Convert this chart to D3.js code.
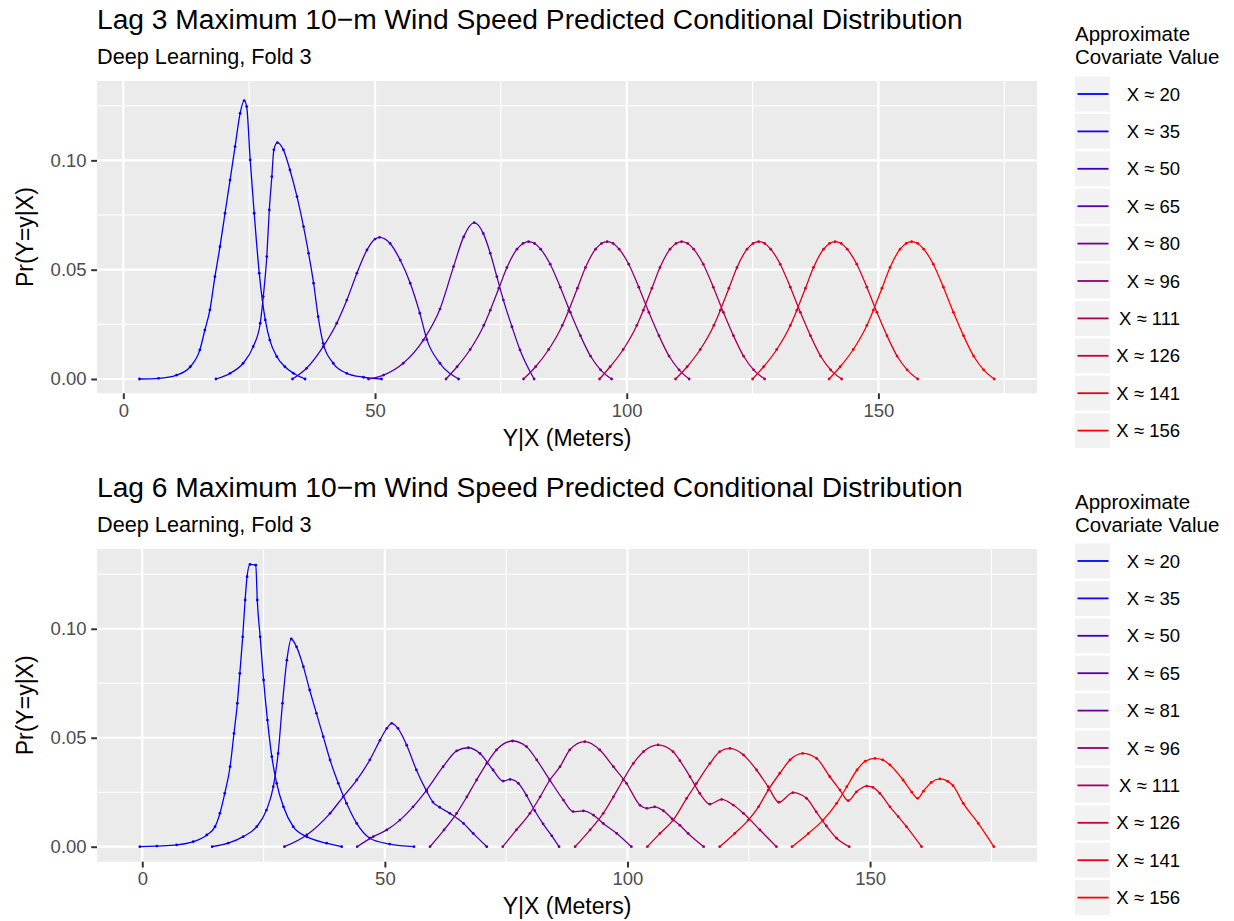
<!DOCTYPE html>
<html>
<head>
<meta charset="utf-8">
<script src="https://cdn.jsdelivr.net/npm/d3@7"></script>
<style>
  body { margin: 0; background: #fff; }
  text { font-family: "Liberation Sans", Arial, Helvetica, sans-serif; }
</style>
</head>
<body>
<svg id="chart" width="1234" height="921"></svg>
<script>
// legend labels for each panel
const lag3Labels = ['X \u2248 20', 'X \u2248 35', 'X \u2248 50', 'X \u2248 65', 'X \u2248 80',
    'X \u2248 96', 'X \u2248 111', 'X \u2248 126', 'X \u2248 141', 'X \u2248 156'];
const lag6Labels = ['X \u2248 20', 'X \u2248 35', 'X \u2248 50', 'X \u2248 65', 'X \u2248 81',
    'X \u2248 96', 'X \u2248 111', 'X \u2248 126', 'X \u2248 141', 'X \u2248 156'];

// axis ticks
const xTicks = [0, 50, 100, 150];
const xMinor = [25, 75, 125, 175];
const yTicks = [0, 0.05, 0.10];
const yMinor = [0.025, 0.075, 0.125];

// lag 3 curves, [y|x, Pr]
const lag3Curves = [
    [[3.2,0],[7.0,.0003],[10.6,.0018],[13.3,.0056],[15.2,.0133],[16.2,.0224],[17.2,.0316],[18.2,.0468],
     [19.2,.0605],[20.2,.0758],[21.2,.0910],[22.2,.1063],[23.2,.1215],[24.0,.1273],[24.5,.1246],[25.2,.1002],
     [26.0,.0758],[27.0,.0484],[28.2,.0270],[29.1,.0178],[30.5,.0102],[32.1,.0056],[33.8,.0026],[36.1,0]],
    [[18.4,0],[21.2,.0026],[23.8,.0072],[25.8,.0148],[27.2,.0255],[27.8,.0377],[28.5,.0560],[29.0,.0773],
     [29.5,.0925],[29.9,.1048],[30.6,.1081],[31.8,.1048],[33.1,.0956],[34.5,.0834],[35.8,.0697],[36.8,.0575],
     [37.8,.0438],[38.7,.0285],[39.7,.0163],[41.7,.0072],[44.4,.0026],[47.7,.0008],[51.3,0]],
    [[33.6,0],[36.4,.0049],[39.7,.0148],[42.4,.0255],[44.4,.0361],[46.4,.0484],[48.4,.0590],[50.0,.0640],
     [50.9,.0648],[53.0,.0620],[55.0,.0544],[57.0,.0438],[58.9,.0301],[60.3,.0180],[62.9,.0072],[66.6,0]],
    [[48.7,0],[51.7,.0018],[55.6,.0072],[59.6,.0178],[62.9,.0320],[65.6,.0514],[67.6,.0650],[69.7,.0715],
     [71.5,.0666],[72.9,.0575],[74.2,.0468],[75.5,.0361],[77.2,.0239],[78.8,.0133],[81.6,0]],
    [[64.1,0],[66.3,.0056],[68.9,.0135],[71.6,.0245],[72.9,.0315],[74.6,.0415],[76.2,.0510],[78.2,.0594],
     [79.4,.0620],[80.5,.0628],[81.7,.0620],[82.9,.0594],[84.8,.0525],[86.8,.0420],[88.8,.0305],[90.8,.0198],
     [92.8,.0105],[94.8,.0042],[97.0,0]],
    [[79.5,0],[81.9,.0056],[84.5,.0135],[87.2,.0245],[88.5,.0315],[90.2,.0415],[91.8,.0510],[93.8,.0594],
     [95.0,.0620],[96.1,.0628],[97.3,.0620],[98.5,.0594],[100.4,.0525],[102.4,.0420],[104.4,.0305],[106.4,.0198],
     [108.4,.0105],[110.4,.0042],[112.4,0]],
    [[94.6,0],[96.7,.0056],[99.3,.0135],[102.0,.0245],[103.3,.0315],[105.0,.0415],[106.6,.0510],[108.6,.0594],
     [109.8,.0620],[110.9,.0628],[112.1,.0620],[113.3,.0594],[115.2,.0525],[117.2,.0420],[119.2,.0305],[121.2,.0198],
     [123.2,.0105],[125.2,.0042],[127.4,0]],
    [[109.7,0],[112.0,.0056],[114.6,.0135],[117.3,.0245],[118.6,.0315],[120.3,.0415],[121.9,.0510],[123.9,.0594],
     [125.1,.0620],[126.2,.0628],[127.4,.0620],[128.6,.0594],[130.5,.0525],[132.5,.0420],[134.5,.0305],[136.5,.0198],
     [138.5,.0105],[140.5,.0042],[142.7,0]],
    [[125.0,0],[127.2,.0056],[129.8,.0135],[132.5,.0245],[133.8,.0315],[135.5,.0415],[137.1,.0510],[139.1,.0594],
     [140.3,.0620],[141.4,.0628],[142.6,.0620],[143.8,.0594],[145.7,.0525],[147.7,.0420],[149.7,.0305],[151.7,.0198],
     [153.7,.0105],[155.7,.0042],[157.8,0]],
    [[140.2,0],[142.4,.0056],[145.0,.0135],[147.7,.0245],[149.0,.0315],[150.7,.0415],[152.3,.0510],[154.3,.0594],
     [155.5,.0620],[156.6,.0628],[157.8,.0620],[159.0,.0594],[160.9,.0525],[162.9,.0420],[164.9,.0305],[166.9,.0198],
     [168.9,.0105],[170.9,.0042],[173.0,0]]
];

// lag 6 curves
const lag6Curves = [
    [[-0.5,0],[3.0,.0003],[7.1,.0008],[10.5,.0023],[13.3,.0054],[15.0,.0092],[16.0,.0153],[17.0,.0245],
     [18.1,.0367],[18.9,.0520],[19.6,.0658],[20.1,.0795],[20.7,.0963],[21.2,.1132],[21.6,.1239],[22.2,.1295],
     [23.4,.1292],[23.7,.1132],[24.3,.0963],[25.0,.0765],[25.8,.0581],[26.7,.0413],[27.7,.0291],[29.1,.0183],
     [31.1,.0092],[33.9,.0046],[38.0,.0016],[41.1,0]],
    [[14.4,0],[17.7,.0016],[20.8,.0046],[23.6,.0092],[25.6,.0168],[27.0,.0275],[28.0,.0428],[28.9,.0658],
     [29.8,.0856],[30.7,.0953],[31.8,.0917],[33.2,.0826],[34.5,.0719],[35.9,.0612],[37.3,.0505],[38.7,.0398],
     [40.4,.0291],[42.1,.0199],[44.2,.0107],[46.9,.0039],[51.0,.0012],[56.0,0]],
    [[29.3,0],[33.9,.0054],[38.7,.0153],[41.4,.0229],[44.2,.0306],[46.9,.0398],[49.0,.0489],[50.4,.0543],
     [51.4,.0566],[52.7,.0543],[54.5,.0466],[56.5,.0352],[58.6,.0255],[59.9,.0205],[61.3,.0181],[63.4,.0153],
     [66.2,.0107],[68.2,.0061],[71.0,0]],
    [[44.3,0],[47.6,.0046],[50.4,.0077],[53.1,.0122],[55.8,.0183],[58.6,.0260],[62.0,.0367],[64.8,.0440],
     [67.2,.0454],[69.6,.0428],[72.3,.0352],[74.4,.0301],[75.8,.0309],[77.5,.0291],[79.2,.0235],[80.9,.0165],
     [82.6,.0105],[84.4,.0050],[85.9,0]],
    [[59.3,0],[62.2,.0077],[64.8,.0153],[66.9,.0229],[68.9,.0306],[71.0,.0382],[73.0,.0444],[76.3,.0485],
     [79.2,.0459],[81.3,.0398],[84.0,.0306],[86.8,.0214],[88.8,.0161],[90.9,.0164],[93.0,.0145],[95.0,.0107],
     [97.8,.0061],[100.8,0]],
    [[74.3,0],[77.1,.0077],[79.9,.0153],[82.0,.0229],[84.0,.0306],[86.1,.0367],[88.1,.0444],[91.2,.0482],
     [94.3,.0444],[97.1,.0367],[99.8,.0291],[102.6,.0190],[104.0,.0176],[105.6,.0183],[107.4,.0165],[109.2,.0128],
     [110.8,.0098],[112.5,.0061],[115.7,0]],
    [[89.2,0],[92.3,.0077],[95.0,.0153],[97.1,.0229],[99.1,.0306],[101.2,.0382],[103.3,.0436],[106.3,.0467],
     [109.4,.0436],[110.8,.0395],[112.9,.0321],[114.9,.0245],[117.0,.0195],[119.4,.0217],[121.8,.0191],[123.9,.0153],
     [127.3,.0077],[130.7,0]],
    [[104.1,0],[106.7,.0061],[109.4,.0122],[112.2,.0222],[114.2,.0290],[117.0,.0382],[119.0,.0436],[121.1,.0451],
     [123.9,.0421],[126.6,.0352],[129.0,.0275],[131.2,.0204],[134.1,.0248],[136.9,.0222],[138.9,.0160],[141.0,.0095],
     [143.1,.0039],[145.7,0]],
    [[119.0,0],[122.1,.0061],[124.9,.0122],[127.0,.0183],[129.0,.0260],[131.4,.0337],[133.5,.0398],[136.1,.0428],
     [139.0,.0405],[141.7,.0321],[143.8,.0260],[145.5,.0211],[147.2,.0252],[149.3,.0278],[150.6,.0272],[152.0,.0245],
     [154.1,.0183],[155.8,.0138],[157.5,.0092],[160.6,0]],
    [[133.9,0],[137.3,.0061],[140.3,.0122],[143.1,.0199],[145.2,.0275],[147.3,.0352],[149.0,.0392],[151.0,.0405],
     [152.6,.0398],[154.1,.0375],[156.8,.0306],[158.6,.0250],[159.8,.0222],[161.0,.0255],[162.6,.0295],[164.4,.0311],
     [166.0,.0300],[167.1,.0280],[169.2,.0199],[172.3,.0107],[175.5,0]]
];

const svg = d3.select('#chart');
svg.append('rect').attr('width', 1234).attr('height', 921).attr('fill', '#fff');

// blue to red, one step per covariate value
const colour = i => d3.interpolateRgb('#0000FF', '#FF0000')(i / 9);

const panelLeft = 97, panelRight = 1037;

function drawPanel(cfg) {
    let x = d3.scaleLinear().domain(cfg.xDomain).range([panelLeft, panelRight]);
    let y = d3.scaleLinear().domain(cfg.yDomain).range([cfg.bottom, cfg.top]);
    let g = svg.append('g');

    // titles
    g.append('text').attr('x', panelLeft).attr('y', cfg.titleY)
        .attr('font-size', 28.2).attr('fill', '#000').text(cfg.title);
    g.append('text').attr('x', panelLeft).attr('y', cfg.titleY + 35)
        .attr('font-size', 21.7).attr('fill', '#000').text('Deep Learning, Fold 3');

    // panel background
    g.append('rect')
        .attr('x', panelLeft).attr('y', cfg.top)
        .attr('width', panelRight - panelLeft).attr('height', cfg.bottom - cfg.top)
        .attr('fill', '#EBEBEB');

    // grid, minor first
    g.selectAll('line.vmin').data(xMinor).join('line').attr('class', 'vmin')
        .attr('x1', d => x(d)).attr('x2', d => x(d)).attr('y1', cfg.top).attr('y2', cfg.bottom)
        .attr('stroke', '#fff').attr('stroke-width', 1.1);
    g.selectAll('line.hmin').data(yMinor).join('line').attr('class', 'hmin')
        .attr('y1', d => y(d)).attr('y2', d => y(d)).attr('x1', panelLeft).attr('x2', panelRight)
        .attr('stroke', '#fff').attr('stroke-width', 1.1);
    g.selectAll('line.vmaj').data(xTicks).join('line').attr('class', 'vmaj')
        .attr('x1', d => x(d)).attr('x2', d => x(d)).attr('y1', cfg.top).attr('y2', cfg.bottom)
        .attr('stroke', '#fff').attr('stroke-width', 2.2);
    g.selectAll('line.hmaj').data(yTicks).join('line').attr('class', 'hmaj')
        .attr('y1', d => y(d)).attr('y2', d => y(d)).attr('x1', panelLeft).attr('x2', panelRight)
        .attr('stroke', '#fff').attr('stroke-width', 2.2);

    // axes
    let xAxis = g.append('g').attr('transform', `translate(0,${cfg.bottom})`)
        .call(d3.axisBottom(x).tickValues(xTicks).tickFormat(d3.format('d')).tickSize(5.8).tickPadding(4.8));
    let yAxis = g.append('g').attr('transform', `translate(${panelLeft},0)`)
        .call(d3.axisLeft(y).tickValues(yTicks).tickFormat(d3.format('.2f')).tickSize(5.8).tickPadding(4.6));
    [xAxis, yAxis].forEach(a => {
        a.select('.domain').remove();
        a.selectAll('line').attr('stroke', '#333').attr('stroke-width', 2);
        a.selectAll('text').attr('fill', '#4D4D4D').attr('font-size', 18.5)
            .style('font-family', '"Liberation Sans", Arial, sans-serif');
    });

    // axis titles
    g.append('text').attr('x', (panelLeft + panelRight) / 2).attr('y', cfg.bottom + 52.5)
        .attr('text-anchor', 'middle').attr('font-size', 23).text('Y|X (Meters)');
    g.append('text')
        .attr('transform', `translate(33,${(cfg.top + cfg.bottom) / 2}) rotate(-90)`)
        .attr('text-anchor', 'middle').attr('font-size', 23).text('Pr(Y=y|X)');

    // curves: line plus a point at every value
    let line = d3.line().x(d => x(d[0])).y(d => y(d[1])).curve(d3.curveMonotoneX);
    let clip = 'clip' + cfg.id;
    g.append('clipPath').attr('id', clip).append('rect')
        .attr('x', panelLeft).attr('y', cfg.top)
        .attr('width', panelRight - panelLeft).attr('height', cfg.bottom - cfg.top);
    let curves = g.append('g').attr('clip-path', `url(#${clip})`);
    cfg.curves.forEach((c, i) => {
        curves.append('path').datum(c).attr('d', line)
            .attr('fill', 'none').attr('stroke', colour(i)).attr('stroke-width', 1.3);
        curves.selectAll(`circle.c${i}`).data(c).join('circle').attr('class', `c${i}`)
            .attr('cx', d => x(d[0])).attr('cy', d => y(d[1])).attr('r', 1.4)
            .attr('fill', colour(i));
    });

    // legend
    let lg = g.append('g');
    lg.append('text').attr('x', 1075).attr('y', cfg.legendY)
        .attr('font-size', 20.5).text('Approximate');
    lg.append('text').attr('x', 1075).attr('y', cfg.legendY + 23)
        .attr('font-size', 20.5).text('Covariate Value');
    cfg.labels.forEach((lab, i) => {
        let cy = cfg.keyY + i * 37.4;
        lg.append('rect').attr('x', 1075).attr('y', cy - 17.5).attr('width', 35).attr('height', 35)
            .attr('fill', '#F2F2F2');
        lg.append('line').attr('x1', 1077.5).attr('x2', 1108.5).attr('y1', cy).attr('y2', cy)
            .attr('stroke', colour(i)).attr('stroke-width', 1.8);
        lg.append('text').attr('x', 1180).attr('y', cy + 6.6).attr('text-anchor', 'end')
            .attr('font-size', 18.5).text(lab);
    });
}

drawPanel({
    id: 3, title: 'Lag 3 Maximum 10\u2212m Wind Speed Predicted Conditional Distribution',
    titleY: 29, top: 81, bottom: 393.3,
    xDomain: [-5.23, 181.5], yDomain: [-0.00654, 0.1363],
    curves: lag3Curves, labels: lag3Labels, legendY: 41, keyY: 94
});
drawPanel({
    id: 6, title: 'Lag 6 Maximum 10\u2212m Wind Speed Predicted Conditional Distribution',
    titleY: 497, top: 549, bottom: 861.7,
    xDomain: [-9.33, 184.4], yDomain: [-0.00688, 0.1366],
    curves: lag6Curves, labels: lag6Labels, legendY: 509, keyY: 561
});
</script>
</body>
</html>
